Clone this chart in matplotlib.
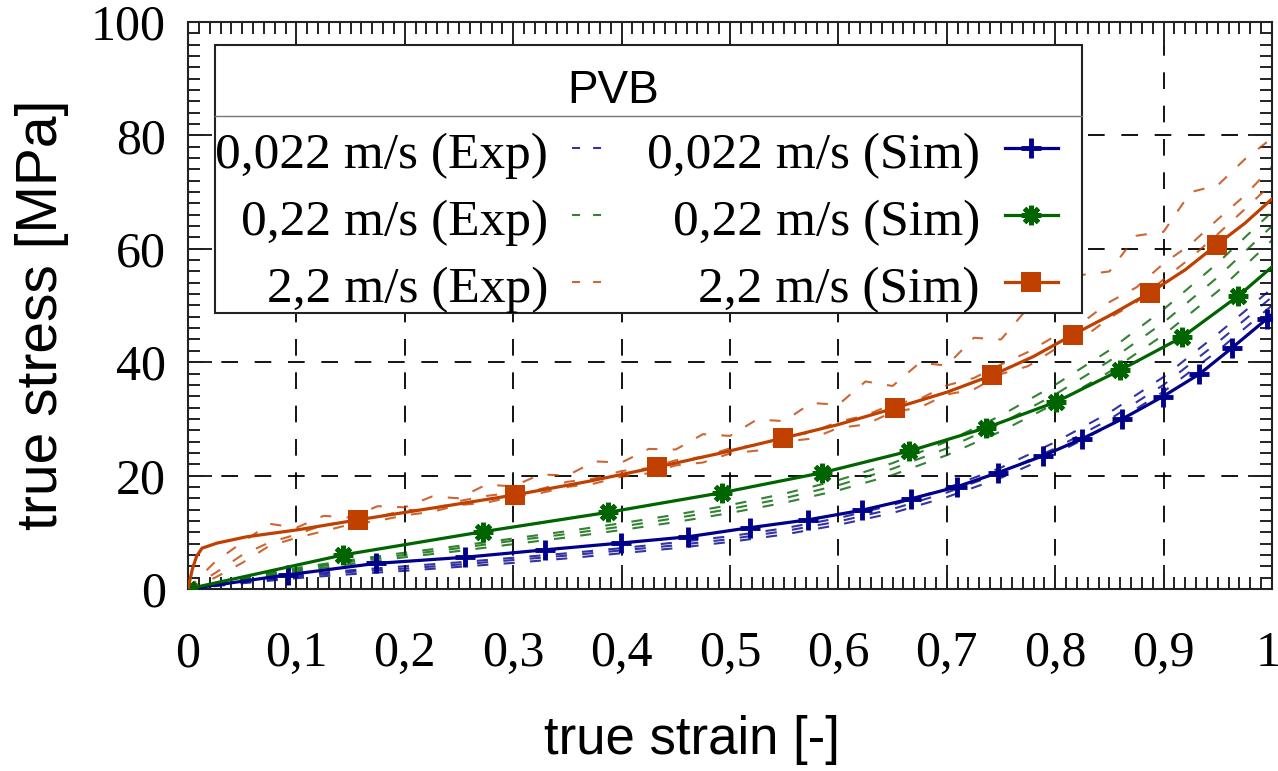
import matplotlib.pyplot as plt
from matplotlib.patches import Rectangle
from matplotlib.lines import Line2D
from matplotlib.ticker import MultipleLocator, FixedLocator, FixedFormatter
from matplotlib.transforms import ScaledTranslation

plt.rcParams['lines.scale_dashes'] = False

SERIF = 'Liberation Serif'
SANS = 'Liberation Sans'

c_slow = '#00008b'
c_mid = '#006400'
c_fast = '#c04000'

# simulation, true strain / true stress [MPa]
sim_slow_x = [0, 0.092, 0.173, 0.256, 0.329, 0.399, 0.461, 0.518, 0.572, 0.622, 0.667,
              0.709, 0.747, 0.789, 0.825, 0.862, 0.899, 0.933, 0.963, 0.995, 1.0]
sim_slow_y = [0, 2.5, 4.5, 5.6, 6.9, 8.1, 9.2, 10.8, 12.2, 13.9, 15.9,
              18.0, 20.5, 23.5, 26.5, 30.0, 33.9, 37.9, 42.5, 47.6, 48.4]

sim_mid_x = [0, 0.143, 0.272, 0.387, 0.493, 0.585, 0.665, 0.736, 0.801, 0.860, 0.917, 0.969, 1.0]
sim_mid_y = [0, 6.0, 10.1, 13.5, 17.0, 20.5, 24.3, 28.4, 33.0, 38.6, 44.4, 51.7, 56.8]

sim_fast_x = [0, 0.004, 0.008, 0.013, 0.027, 0.054, 0.1, 0.157, 0.23, 0.302, 0.37, 0.433, 0.49,
              0.549, 0.6, 0.652, 0.7, 0.742, 0.78, 0.816, 0.85, 0.887, 0.92, 0.949, 0.975, 1.0]
sim_fast_y = [0, 3.5, 5.8, 7.2, 8.1, 9.2, 10.4, 12.2, 14.4, 16.6, 19.0, 21.5, 23.9,
              26.6, 29.0, 31.9, 34.7, 37.7, 41.0, 44.8, 48.2, 52.2, 56.3, 60.7, 64.5, 68.8]
sim_fast_marks = [7, 9, 11, 13, 15, 17, 19, 21, 23]

# experiments, three specimens per speed
exp_x = [0, 0.05, 0.1, 0.15, 0.2, 0.25, 0.3, 0.35, 0.4, 0.45, 0.5,
         0.55, 0.6, 0.65, 0.7, 0.75, 0.8, 0.85, 0.9, 0.95, 1.0]
exp_slow = [
    [0, 1.0, 1.9, 2.6, 3.2, 3.9, 4.6, 5.4, 6.3, 7.2, 8.3, 9.6, 11.3, 13.4, 16.2, 19.6, 23.8, 28.8, 34.8, 42.0, 50.0],
    [0, 1.2, 2.2, 3.0, 3.6, 4.3, 5.1, 5.9, 6.8, 7.7, 8.8, 10.2, 11.9, 14.1, 17.0, 20.5, 24.8, 29.9, 36.0, 43.5, 51.5],
    [0, 1.4, 2.5, 3.3, 4.0, 4.7, 5.5, 6.3, 7.2, 8.2, 9.3, 10.7, 12.5, 14.8, 17.8, 21.4, 25.9, 31.1, 37.4, 45.0, 53.0],
]
exp_mid = [
    [0, 1.6, 3.1, 4.4, 5.6, 6.7, 7.9, 9.1, 10.4, 11.8, 13.4, 15.2, 17.4, 20.1, 23.6, 27.8, 32.7, 38.3, 44.8, 52.5, 61.5],
    [0, 1.8, 3.4, 4.8, 6.0, 7.2, 8.5, 9.7, 11.0, 12.5, 14.1, 16.0, 18.3, 21.2, 24.8, 29.2, 34.3, 40.2, 47.0, 55.0, 64.0],
    [0, 2.0, 3.7, 5.1, 6.4, 7.6, 8.9, 10.2, 11.6, 13.1, 14.8, 16.8, 19.2, 22.2, 26.0, 30.6, 36.0, 42.1, 49.3, 57.5, 66.5],
]
exp_fast_x = [0, 0.025, 0.05, 0.075, 0.1, 0.125, 0.15, 0.175, 0.2, 0.225, 0.25, 0.275, 0.3, 0.325,
              0.35, 0.375, 0.4, 0.425, 0.45, 0.475, 0.5, 0.525, 0.55, 0.575, 0.6, 0.625, 0.65,
              0.675, 0.7, 0.725, 0.75, 0.775, 0.8, 0.825, 0.85, 0.875, 0.9, 0.925, 0.95, 0.975, 1.0]
exp_fast = [
    [0, 4.8, 8.2, 11.5, 10.8, 12.9, 12.6, 14.6, 14.4, 16.3, 16.0, 18.4, 18.1, 20.2, 20.0, 22.5, 22.3,
     24.7, 24.6, 27.3, 27.0, 29.9, 29.6, 32.8, 32.5, 36.6, 35.8, 39.9, 39.4, 44.3, 44.0, 49.6, 49.8,
     55.4, 56.0, 62.3, 63.0, 70.0, 71.2, 75.8, 79.5],
    [0, 2.8, 6.0, 8.2, 9.6, 11.3, 11.9, 12.7, 13.9, 14.0, 15.5, 16.4, 17.0, 17.6, 18.9, 19.5, 20.8,
     21.3, 22.7, 23.3, 24.8, 25.4, 26.8, 27.6, 29.5, 30.6, 32.6, 33.5, 35.9, 37.2, 39.6, 41.8, 44.6,
     47.0, 50.6, 53.2, 57.4, 60.8, 65.2, 69.4, 74.5],
    [0, 2.0, 4.6, 7.6, 9.0, 10.2, 11.4, 12.0, 13.0, 13.6, 14.8, 15.2, 16.3, 16.9, 18.0, 18.6, 19.8,
     20.4, 21.8, 22.3, 23.9, 24.4, 26.0, 26.5, 28.4, 29.0, 31.2, 32.0, 34.3, 35.2, 37.9, 39.3, 42.3,
     44.2, 47.8, 50.6, 54.6, 58.4, 62.6, 67.0, 71.5],
]

x_ticks = [0, 0.1, 0.2, 0.3, 0.4, 0.5, 0.6, 0.7, 0.8, 0.9, 1.0]
x_labels = ['0', '0,1', '0,2', '0,3', '0,4', '0,5', '0,6', '0,7', '0,8', '0,9', '1']
y_ticks = [0, 20, 40, 60, 80, 100]
y_labels = ['0', '20', '40', '60', '80', '100']

legend_exp = ['0,022 m/s (Exp)', '0,22 m/s (Exp)', '2,2 m/s (Exp)']
legend_sim = ['0,022 m/s (Sim)', '0,22 m/s (Sim)', '2,2 m/s (Sim)']

fig = plt.figure(figsize=(12.78, 7.71), dpi=100)
ax = fig.add_axes([0.1471, 0.2361, 0.8482, 0.7354])

exp_style = dict(lw=1.5, dashes=(8, 11), alpha=0.8, zorder=2)
for ys in exp_slow:
    ax.plot(exp_x, ys, color=c_slow, **exp_style)
for ys in exp_mid:
    ax.plot(exp_x, ys, color=c_mid, **exp_style)
for ys in exp_fast:
    ax.plot(exp_fast_x, ys, color=c_fast, **exp_style)

slow_mk = dict(marker='+', markersize=15, markeredgewidth=3.5)
mid_mk = dict(marker=(8, 2, 0), markersize=14, markeredgewidth=3.5)
fast_mk = dict(marker='s', markersize=14, markeredgewidth=0)

ax.plot(sim_slow_x, sim_slow_y, color=c_slow, lw=2.3, markevery=slice(0, 20), zorder=3, **slow_mk)
ax.plot(sim_mid_x, sim_mid_y, color=c_mid, lw=2.3, markevery=slice(0, 12), zorder=3, **mid_mk)
ax.plot(sim_fast_x, sim_fast_y, color=c_fast, lw=2.3, markevery=sim_fast_marks, zorder=3, **fast_mk)

ax.set_xlim(0, 1)
ax.set_ylim(0, 100)
ax.xaxis.set_major_locator(FixedLocator(x_ticks))
ax.xaxis.set_major_formatter(FixedFormatter(x_labels))
ax.yaxis.set_major_locator(FixedLocator(y_ticks))
ax.yaxis.set_major_formatter(FixedFormatter(y_labels))
ax.xaxis.set_minor_locator(MultipleLocator(0.01))
ax.yaxis.set_minor_locator(MultipleLocator(2))
ax.tick_params(which='both', direction='in', top=True, right=True, width=1.4, color='#222222')
ax.tick_params(which='major', length=17)
ax.tick_params(which='minor', length=8.5)
ax.tick_params(axis='x', pad=30)
ax.tick_params(axis='y', pad=16)
for lab in ax.get_xticklabels() + ax.get_yticklabels():
    lab.set_fontfamily(SERIF)
    lab.set_fontsize(36)
# keep the last strain label inside the canvas
last = ax.get_xticklabels()[-1]
last.set_transform(last.get_transform() + ScaledTranslation(-4 / 100, 0, fig.dpi_scale_trans))
for sp in ax.spines.values():
    sp.set_linewidth(1.5)
    sp.set_color('#222222')
ax.grid(True, which='major', color='black', lw=1.3, dashes=(12, 12))

fig.text(0.5415, 0.0402, 'true strain [-]', family=SANS, fontsize=38, ha='center', va='center')
fig.text(0.0329, 0.5914, 'true stress [MPa]', family=SANS, fontsize=41, ha='center', va='center',
         rotation=90)

# key box with title row
ax.add_patch(Rectangle((0.0249, 0.4868), 0.7998, 0.4726, transform=ax.transAxes,
                       facecolor='white', edgecolor='#222222', lw=1.5, zorder=5))
ax.add_line(Line2D([0.0249, 0.8247], [0.8342, 0.8342], transform=ax.transAxes,
                   color='#777777', lw=1.0, zorder=6))
ax.text(0.392, 0.857, 'PVB', transform=ax.transAxes, family=SANS, fontsize=33,
        ha='center', va='baseline', zorder=7)

rows = [0.7425, 0.6243, 0.5062]
colors = [c_slow, c_mid, c_fast]
marks = [slow_mk, mid_mk, fast_mk]
for y, col, mk, le, ls in zip(rows, colors, marks, legend_exp, legend_sim):
    ax.text(0.3321, y, le, transform=ax.transAxes, family=SERIF, fontsize=37,
            ha='right', va='baseline', zorder=7)
    ax.text(0.7306, y, ls, transform=ax.transAxes, family=SERIF, fontsize=37,
            ha='right', va='baseline', zorder=7)
    ym = y + 0.035
    ax.add_line(Line2D([0.354, 0.381], [ym, ym], transform=ax.transAxes, color=col,
                       lw=1.5, dashes=(5.8, 9.4), alpha=0.8, zorder=7))
    ax.add_line(Line2D([0.7537, 0.8026], [ym, ym], transform=ax.transAxes, color=col,
                       lw=2.3, zorder=7))
    ax.add_line(Line2D([0.778], [ym], transform=ax.transAxes, color=col, lw=0,
                       zorder=7, **mk))

fig.savefig('out.png', dpi=100)
